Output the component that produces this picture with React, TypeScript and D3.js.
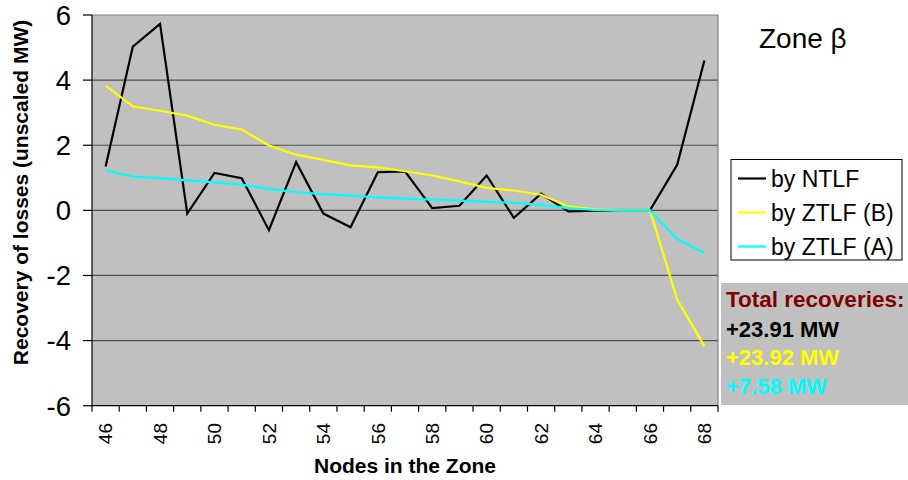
import React from "react";
import * as d3 from "d3";

const nodes = ["46","47","48","49","50","51","52","53","54","55","56","57","58","59","60","61","62","63","64","65","66","67","68"];
const ntlf = [1.35, 5.03, 5.73, -0.1, 1.15, 0.99, -0.61, 1.48, -0.1, -0.52, 1.17, 1.2, 0.07, 0.14, 1.07, -0.23, 0.51, -0.03, -0.01, 0, 0, 1.4, 4.6];
const ztlfB = [3.83, 3.19, 3.06, 2.91, 2.63, 2.48, 1.99, 1.71, 1.55, 1.38, 1.32, 1.2, 1.07, 0.89, 0.69, 0.61, 0.48, 0.12, 0.02, 0, 0, -2.74, -4.17];
const ztlfA = [1.23, 1.04, 0.99, 0.92, 0.86, 0.79, 0.66, 0.56, 0.5, 0.45, 0.4, 0.36, 0.33, 0.3, 0.26, 0.23, 0.17, 0.07, 0.01, 0, 0, -0.88, -1.31];
const yTicks = [-6, -4, -2, 0, 2, 4, 6];
const xLabelNodes = ["46","48","50","52","54","56","58","60","62","64","66","68"];

const series = [
  { name: "by NTLF", values: ntlf, color: "#000000" },
  { name: "by ZTLF (B)", values: ztlfB, color: "#FFFF00" },
  { name: "by ZTLF (A)", values: ztlfA, color: "#00FFFF" },
];
const totals = [
  { text: "+23.91 MW", color: "#000000" },
  { text: "+23.92 MW", color: "#FFFF00" },
  { text: "+7.58 MW", color: "#00FFFF" },
];

const FONT = "'Liberation Sans', Arial, sans-serif";

export default function App() {
  const left = 92, right = 718, top = 15, bottom = 405.7;
  const x = d3.scaleBand<string>().domain(nodes).range([left, right]).padding(0);
  const y = d3.scaleLinear().domain([-6, 6]).range([bottom, top]);
  const cx = (n: string) => (x(n) as number) + x.bandwidth() / 2;
  const line = d3
    .line<number>()
    .x((_, i) => cx(nodes[i]))
    .y((d) => y(d));

  const boundaries = nodes.map((n) => x(n) as number).concat([right]);

  return (
    <svg
      width={908}
      height={480}
      style={{ position: "absolute", left: 0, top: 0, background: "#fff" }}
      fontFamily={FONT}
    >
      <rect x={left} y={top} width={right - left} height={bottom - top} fill="#C0C0C0" />
      {yTicks
        .filter((t) => t !== -6 && t !== 6)
        .map((t) => (
          <line key={"g" + t} x1={left} x2={right} y1={y(t)} y2={y(t)} stroke="#505050" strokeWidth={1.2} />
        ))}
      <line x1={left} x2={right} y1={top} y2={top} stroke="#808080" strokeWidth={1.2} />
      <line x1={right} x2={right} y1={top} y2={bottom} stroke="#808080" strokeWidth={1.2} />
      {/* axes */}
      <line x1={left} x2={left} y1={top} y2={bottom} stroke="#000" strokeWidth={1.2} />
      <line x1={left} x2={right} y1={bottom} y2={bottom} stroke="#000" strokeWidth={1.2} />
      {yTicks.map((t) => (
        <g key={"yt" + t}>
          <line x1={left - 9} x2={left} y1={y(t)} y2={y(t)} stroke="#000" strokeWidth={1.2} />
          <text x={71} y={y(t)} dy="0.36em" textAnchor="end" fontSize={27.5}>
            {t}
          </text>
        </g>
      ))}
      {boundaries.map((b, i) => (
        <line key={"xt" + i} x1={b} x2={b} y1={bottom} y2={bottom + 6} stroke="#000" strokeWidth={1.2} />
      ))}
      {xLabelNodes.map((n) => (
        <text
          key={"xl" + n}
          transform={`translate(${cx(n)},${423}) rotate(-90)`}
          dy="0.36em"
          textAnchor="end"
          fontSize={19}
        >
          {n}
        </text>
      ))}
      {/* series */}
      {series.map((s) => (
        <path key={s.name} d={line(s.values) || ""} fill="none" stroke={s.color} strokeWidth={2.2} strokeLinejoin="miter" />
      ))}
      {/* axis titles */}
      <text x={405} y={473} textAnchor="middle" fontWeight="bold" fontSize={21}>
        Nodes in the Zone
      </text>
      <text transform="translate(28,192.5) rotate(-90)" textAnchor="middle" fontWeight="bold" fontSize={21}>
        Recovery of losses (unscaled MW)
      </text>
      {/* Zone label */}
      <text x={759} y={48} fontSize={28}>
        Zone β
      </text>
      {/* legend */}
      <rect x={731} y={159.5} width={171} height={100.5} fill="#fff" stroke="#000" strokeWidth={1} />
      {series.map((s, i) => {
        const ly = 178.5 + i * 34;
        return (
          <g key={"lg" + s.name}>
            <line x1={738} x2={766} y1={ly} y2={ly} stroke={s.color} strokeWidth={2.2} />
            <text x={771} y={ly} dy="0.36em" fontSize={23}>
              {s.name}
            </text>
          </g>
        );
      })}
      {/* totals box */}
      <rect x={721} y={283} width={187} height={122} fill="#C0C0C0" />
      <text x={726} y={307} fontWeight="bold" fontSize={22.5} fill="#800000">
        Total recoveries:
      </text>
      {totals.map((t, i) => (
        <text key={"tt" + i} x={726} y={336.5 + i * 28.5} fontWeight="bold" fontSize={22} fill={t.color}>
          {t.text}
        </text>
      ))}
    </svg>
  );
}
